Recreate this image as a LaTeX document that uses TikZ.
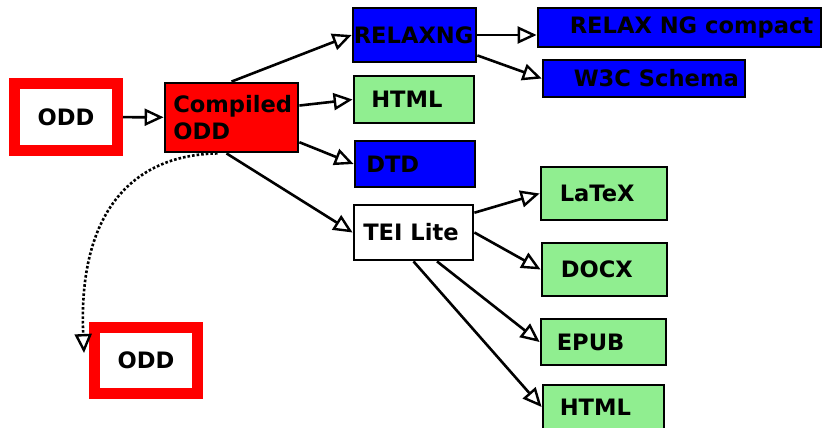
\documentclass[tikz,border=0pt]{standalone}
\usepackage{fontspec}
\setmainfont{DejaVu Sans}
\usetikzlibrary{arrows.meta}
\definecolor{boxred}{RGB}{255,0,0}
\definecolor{boxblue}{RGB}{0,0,255}
\definecolor{boxgreen}{RGB}{144,238,144}

\tikzset{
  box/.style={draw=black, line width=2.8pt, rectangle, inner sep=0pt},
  frame/.style={draw=boxred, fill=white, line width=11pt, rectangle,
    minimum width=103pt, minimum height=66pt, inner sep=0pt,
    font=\fontsize{22.6}{26}\selectfont\bfseries},
  lbl/.style={anchor=west, inner sep=0pt, align=left,
    font=\fontsize{22.6}{26.5}\selectfont\bfseries},
  flow/.style={line width=2.6pt,
    -{Triangle[open, length=19pt, width=17pt, line width=2.4pt]}},
  derive/.style={flow, dash pattern=on 2.6pt off 2pt}
}

\begin{document}
\begin{tikzpicture}[x=1pt, y=-1pt]
  \useasboundingbox (0,0) rectangle (823,428);
  \clip (0,0) rectangle (823,428);

  % source and regenerated ODD
  \node[frame] (odd1) at (66,117) {ODD};
  \node[frame] (odd2) at (146,360) {ODD};

  % boxes
  \node[box, fill=boxred,   minimum width=133pt, minimum height=69pt] (cmp)     at (231.5,117.5) {};
  \node[box, fill=boxblue,  minimum width=123pt, minimum height=54pt] (relaxng) at (414.5,35) {};
  \node[box, fill=boxgreen, minimum width=120pt, minimum height=47pt] (html1)   at (414,99.5) {};
  \node[box, fill=boxblue,  minimum width=120pt, minimum height=46pt] (dtd)     at (415,164) {};
  \node[box, fill=white,    minimum width=119pt, minimum height=55pt] (tei)     at (413.5,232.5) {};
  \node[box, fill=boxblue,  minimum width=283pt, minimum height=39pt] (rnc)     at (679.5,27.5) {};
  \node[box, fill=boxblue,  minimum width=202pt, minimum height=37pt] (w3c)     at (644,78.5) {};
  \node[box, fill=boxgreen, minimum width=126pt, minimum height=53pt] (latex)   at (604,193.5) {};
  \node[box, fill=boxgreen, minimum width=125pt, minimum height=53pt] (docx)    at (604.5,269.5) {};
  \node[box, fill=boxgreen, minimum width=125pt, minimum height=46pt] (epub)    at (603.5,342) {};
  \node[box, fill=boxgreen, minimum width=121pt, minimum height=44pt] (html2)   at (603.5,407) {};

  % box texts
  \node[lbl] (t-cmp)     at ([xshift=9.5pt]cmp.west)    {Compiled\\ODD};
  \node[lbl] (t-relaxng) at ([xshift=2pt]relaxng.west)  {RELAXNG};
  \node[lbl] (t-html1)   at ([xshift=18.5pt]html1.west) {HTML};
  \node[lbl] (t-dtd)     at ([xshift=12.5pt]dtd.west)   {DTD};
  \node[lbl] (t-tei)     at ([xshift=10.5pt]tei.west)   {TEI Lite};
  \node[lbl] (t-rnc)     at ([xshift=33pt]rnc.west)     {RELAX NG compact};
  \node[lbl] (t-w3c)     at ([xshift=32pt]w3c.west)     {W3C Schema};
  \node[lbl] (t-latex)   at ([xshift=20pt]latex.west)   {LaTeX};
  \node[lbl] (t-docx)    at ([xshift=20pt]docx.west)    {DOCX};
  \node[lbl] (t-epub)    at ([xshift=17pt]epub.west)    {EPUB};
  \node[lbl] (t-html2)   at ([xshift=18pt]html2.west)   {HTML};

  % connectors
  \draw[flow] (odd1) -- (cmp);
  \draw[flow] (cmp.north) -- (relaxng.west);
  \draw[flow] (cmp.10) -- (html1.west);
  \draw[flow] (cmp.-20) -- (dtd.west);
  \draw[flow] ([xshift=-5pt]cmp.south) -- (tei.west);
  \draw[flow] (relaxng.east) -- (relaxng.east -| rnc.west);
  \draw[flow] (relaxng.-18) -- (w3c.west);
  \draw[flow] (tei.18) -- (latex.west);
  \draw[flow] (tei.east) -- (docx.west);
  \draw[flow] ([xshift=23.5pt]tei.south) -- (epub.west);
  \draw[flow] (tei.south) -- (html2.west);

  % round trip back to ODD
  \coordinate (ret) at (84,353);
  \draw[derive] ([xshift=-14pt]cmp.south) .. controls (130,155) and (78,215) .. (ret);
\end{tikzpicture}
\end{document}
